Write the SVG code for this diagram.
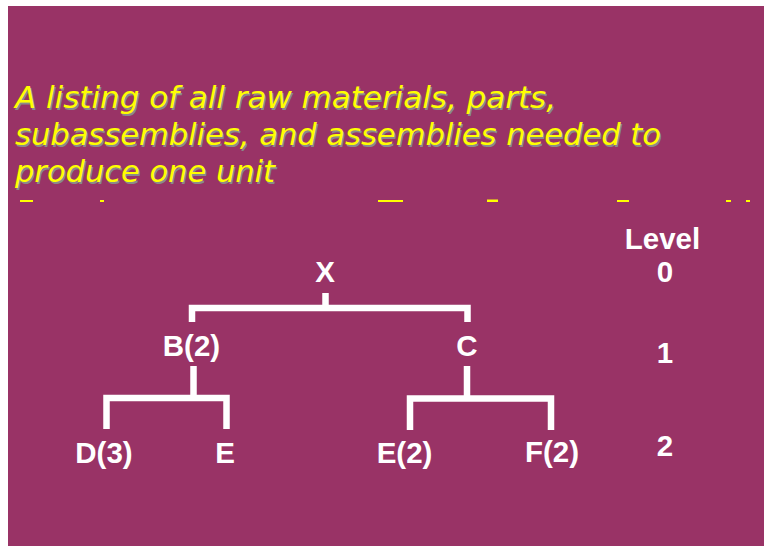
<svg xmlns="http://www.w3.org/2000/svg" width="768" height="546" viewBox="0 0 768 546">
<style>
.title{font-family:"DejaVu Sans","Verdana",sans-serif;font-style:italic;font-size:30px}
.ty{fill:#ffff00}
.ts{fill:#8a8a8a}
.lbl{font-family:"Liberation Sans",Arial,sans-serif;font-weight:bold;font-size:29.5px;fill:#ffffff;text-anchor:middle}
.conn{fill:none;stroke:#ffffff;stroke-width:6.5;stroke-linecap:butt;stroke-linejoin:miter}
</style>
<rect x="0" y="0" width="768" height="546" fill="#ffffff"/>
<rect x="8" y="6" width="756" height="540" fill="#993366"/>
<g id="title">
  <g class="title ts" transform="translate(1.5,1.5)">
    <text x="15" y="108" textLength="541" lengthAdjust="spacingAndGlyphs">A listing of all raw materials, parts,</text>
    <text x="15" y="145" textLength="646" lengthAdjust="spacingAndGlyphs">subassemblies, and assemblies needed to</text>
    <text x="15" y="182" textLength="260" lengthAdjust="spacingAndGlyphs">produce one unit</text>
  </g>
  <g class="title ty">
    <text x="15" y="108" textLength="541" lengthAdjust="spacingAndGlyphs">A listing of all raw materials, parts,</text>
    <text x="15" y="145" textLength="646" lengthAdjust="spacingAndGlyphs">subassemblies, and assemblies needed to</text>
    <text x="15" y="182" textLength="260" lengthAdjust="spacingAndGlyphs">produce one unit</text>
  </g>
</g>
<g id="clipped-line" fill="#ffff00">
  <rect x="20" y="200" width="13" height="2"/>
  <rect x="100" y="200" width="4" height="2"/>
  <rect x="378" y="200" width="25" height="2"/>
  <rect x="487" y="199.5" width="11" height="2.5"/>
  <rect x="617" y="200" width="12" height="2"/>
  <rect x="726" y="200" width="5" height="2"/>
  <rect x="746" y="200" width="4" height="2"/>
</g>
<g id="connectors">
  <path class="conn" d="M325.5 293 V308 M192 322 V308 H467.5 V322"/>
  <path class="conn" d="M193.5 366 V398 M106.5 429 V398 H226.5 V429"/>
  <path class="conn" d="M467 366 V398.5 M410 430 V398.5 H551 V430"/>
</g>
<g id="node-X"><text class="lbl" x="325" y="282">X</text></g>
<g id="node-B"><text class="lbl" x="191.5" y="356">B(2)</text></g>
<g id="node-C"><text class="lbl" x="467" y="356">C</text></g>
<g id="node-D"><text class="lbl" x="104" y="463">D(3)</text></g>
<g id="node-E"><text class="lbl" x="225" y="463">E</text></g>
<g id="node-E2"><text class="lbl" x="404.5" y="463">E(2)</text></g>
<g id="node-F"><text class="lbl" x="552" y="462">F(2)</text></g>
<g id="levels">
  <text class="lbl" x="662.5" y="249">Level</text>
  <text class="lbl" x="665" y="282">0</text>
  <text class="lbl" x="665" y="363">1</text>
  <text class="lbl" x="665" y="456">2</text>
</g>
</svg>
